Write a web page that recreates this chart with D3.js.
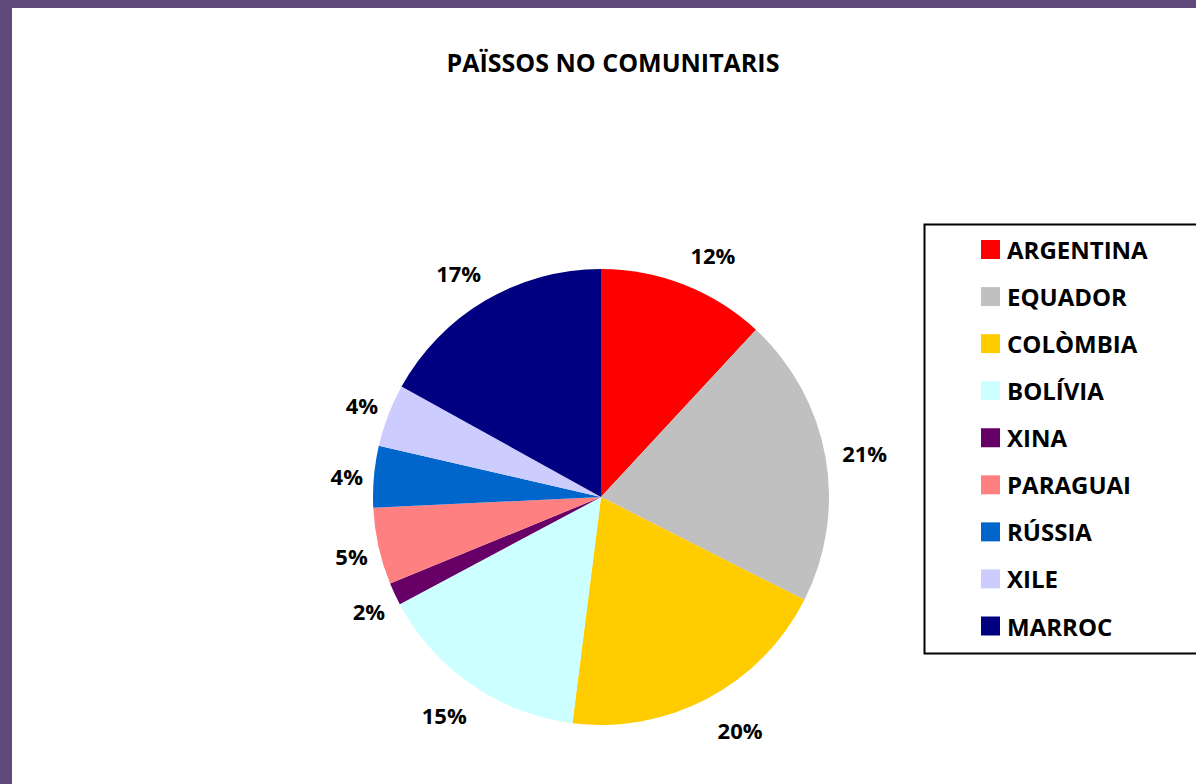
<!DOCTYPE html>
<html><head><meta charset="utf-8">
<script src="https://cdn.jsdelivr.net/npm/d3@7"></script>
<style>html,body{margin:0;padding:0;background:#604A7B;overflow:hidden}</style>
</head><body>
<svg id="chart" width="1196" height="784"></svg>
<script>
const categories = ["ARGENTINA","EQUADOR","COLÒMBIA","BOLÍVIA","XINA","PARAGUAI","RÚSSIA","XILE","MARROC"];
const values = [11.9, 20.55, 19.55, 15.2, 1.6, 5.45, 4.35, 4.45, 16.95];
const colors = ["#FF0000","#C0C0C0","#FFCC00","#CCFFFF","#660066","#FF8080","#0066CC","#CCCCFF","#000080"];
const title = "PAÏSSOS NO COMUNITARIS";

const svg = d3.select("#chart");
const font = "'Open Sans', 'DejaVu Sans', sans-serif";
svg.append("rect").attr("x",0).attr("y",0).attr("width",1196).attr("height",784).attr("fill","#604A7B");
svg.append("rect").attr("x",12).attr("y",8).attr("width",1200).attr("height",800).attr("fill","#FFFFFF");

svg.append("text").attr("x",613).attr("y",72).attr("text-anchor","middle")
  .attr("font-family",font).attr("font-weight","bold").attr("font-size",25).attr("fill","#000")
  .text(title);

const cx = 601, cy = 497, r = 228;
const total = d3.sum(values);
const data = categories.map((c,i)=>({name:c, value:values[i], color:colors[i]}));
const pie = d3.pie().value(d=>d.value).sort(null);
const arcs = pie(data);
const arc = d3.arc().innerRadius(0).outerRadius(r);
const g = svg.append("g").attr("transform",`translate(${cx},${cy})`);
g.selectAll("path").data(arcs).join("path").attr("d",arc).attr("fill",d=>d.data.color);

const fmt = d3.format(".0%");
const vOff = 20, gap = 14, k = 2.5;
const clamp = v => Math.max(-1, Math.min(1, v));
g.selectAll("text.lbl").data(arcs).join("text").attr("class","lbl")
  .attr("text-anchor","middle").attr("dominant-baseline","central")
  .attr("font-family",font).attr("font-weight","bold").attr("font-size",22).attr("fill","#000")
  .text(d=>fmt(d.data.value/total))
  .each(function(d){
    const w = this.getComputedTextLength();
    const a = (d.startAngle+d.endAngle)/2;
    const s = Math.sin(a), c = Math.cos(a);
    const px = (r+gap)*s, py = -(r+gap)*c;
    d3.select(this).attr("x", px + (w/2)*clamp(s*k) + 3).attr("y", py - vOff*c + 2);
  });

// legend
const lg = svg.append("g");
lg.append("rect").attr("x",924.5).attr("y",224.5).attr("width",300).attr("height",429)
  .attr("fill","#fff").attr("stroke","#000").attr("stroke-width",2);
const ly = d3.scalePoint().domain(categories).range([249.5, 626]);
const items = lg.selectAll("g.item").data(data).join("g").attr("class","item")
  .attr("transform",d=>`translate(0,${ly(d.name)})`);
items.append("rect").attr("x",981).attr("y",-9.5).attr("width",19).attr("height",19).attr("fill",d=>d.color);
items.append("text").attr("x",1007).attr("y",0).attr("dominant-baseline","central")
  .attr("font-family",font).attr("font-weight","bold").attr("font-size",24).attr("fill","#000")
  .text(d=>d.name);
</script>
</body></html>
